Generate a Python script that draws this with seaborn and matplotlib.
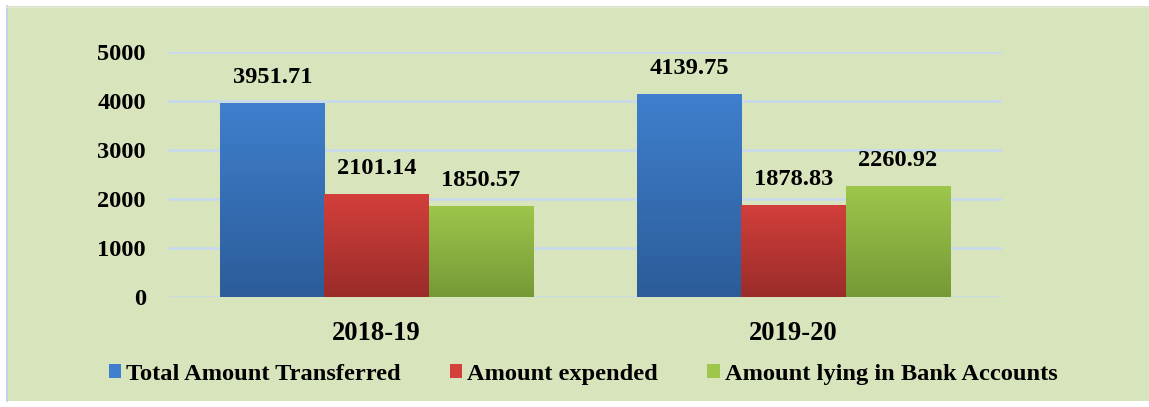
import numpy as np
import pandas as pd
import seaborn as sns
import matplotlib.pyplot as plt
from matplotlib.colors import LinearSegmentedColormap
from matplotlib.patches import Rectangle

years = ["2018-19", "2019-20"]
series = ["Total Amount Transferred", "Amount expended", "Amount lying in Bank Accounts"]
transferred = [3951.71, 4139.75]
expended = [2101.14, 1878.83]
lying = [1850.57, 2260.92]
value_labels = [["3951.71", "4139.75"], ["2101.14", "1878.83"], ["1850.57", "2260.92"]]

# (top, bottom) colours of the excel style gradient
grad = {
    "Total Amount Transferred": ("#3f7fcd", "#2c5c99"),
    "Amount expended": ("#d33f3b", "#9a2c2a"),
    "Amount lying in Bank Accounts": ("#9dc64b", "#769936"),
}

rows = []
for name, vals in zip(series, [transferred, expended, lying]):
    for y, v in zip(years, vals):
        rows.append({"year": y, "series": name, "value": v})
df = pd.DataFrame(rows)

sns.set_style("white")
plt.rcParams["font.family"] = ["Liberation Serif", "DejaVu Serif"]
plt.rcParams["font.weight"] = "bold"
plt.rcParams["text.color"] = "black"
plt.rcParams["xtick.color"] = "black"
plt.rcParams["ytick.color"] = "black"

bg = "#d8e4bc"
fig = plt.figure(figsize=(11.49, 4.07), dpi=100)
fig.patch.set_facecolor("white")
fig.patches.append(Rectangle((6 / 1149, 6 / 407), 1.0, 1 - 12 / 407,
                             transform=fig.transFigure, facecolor=bg,
                             edgecolor="none", zorder=-10))
# faint left / top edges of the chart area
fig.add_artist(plt.Line2D([6.5 / 1149, 6.5 / 1149], [6 / 407, 1 - 6 / 407],
                          transform=fig.transFigure, color="#c3d2e8", lw=1.5))
fig.add_artist(plt.Line2D([6 / 1149, 1], [1 - 6.5 / 407, 1 - 6.5 / 407],
                          transform=fig.transFigure, color="#e2e8d8", lw=1))

ax = fig.add_axes([168 / 1149, 1 - 297 / 407, 834 / 1149, 245 / 407])
ax.set_facecolor(bg)
ax.patch.set_alpha(0)

mid = {k: v[0] for k, v in grad.items()}
sns.barplot(data=df, x="year", y="value", hue="series", hue_order=series,
            palette=mid, width=0.75, saturation=1, ax=ax, zorder=2,
            edgecolor="none")

# gradient fill on each bar
for cont, name in zip(ax.containers, series):
    cmap = LinearSegmentedColormap.from_list(name, [grad[name][1], grad[name][0]])
    g = np.linspace(0, 1, 256).reshape(-1, 1)
    for bar in cont:
        x0, w, h = bar.get_x(), bar.get_width(), bar.get_height()
        im = ax.imshow(g, cmap=cmap, origin="lower", aspect="auto",
                       extent=[x0, x0 + w, 0, h], zorder=3)
        im.set_clip_path(bar)

for cont, labs in zip(ax.containers, value_labels):
    ax.bar_label(cont, labels=labs, padding=11, fontsize=17.6,
                 fontweight="bold", color="black", zorder=5)

ax.set_xlim(-0.5, 1.5)
ax.set_ylim(0, 5000)
ax.set_yticks([0, 1000, 2000, 3000, 4000, 5000])
ax.yaxis.grid(True, color="#c6d9f0", linewidth=1.8, zorder=0)
ax.set_axisbelow(True)
sns.despine(ax=ax, left=True, bottom=True)
ax.tick_params(axis="y", length=0, pad=16, labelsize=17.6)
ax.tick_params(axis="x", length=0, pad=17, labelsize=19.2)
for t in ax.get_xticklabels() + ax.get_yticklabels():
    t.set_fontweight("bold")
ax.set_xlabel("")
ax.set_ylabel("")

sns.move_legend(ax, "center", bbox_to_anchor=(0.4976, -0.315), ncol=3,
                frameon=False, title=None, fontsize=17.6,
                handlelength=0.52, handleheight=0.52, handletextpad=0.2,
                columnspacing=2.0)
for t in ax.get_legend().get_texts():
    t.set_fontweight("bold")
    t.set_color("black")

fig.savefig("out.png", dpi=100, facecolor=fig.get_facecolor())
